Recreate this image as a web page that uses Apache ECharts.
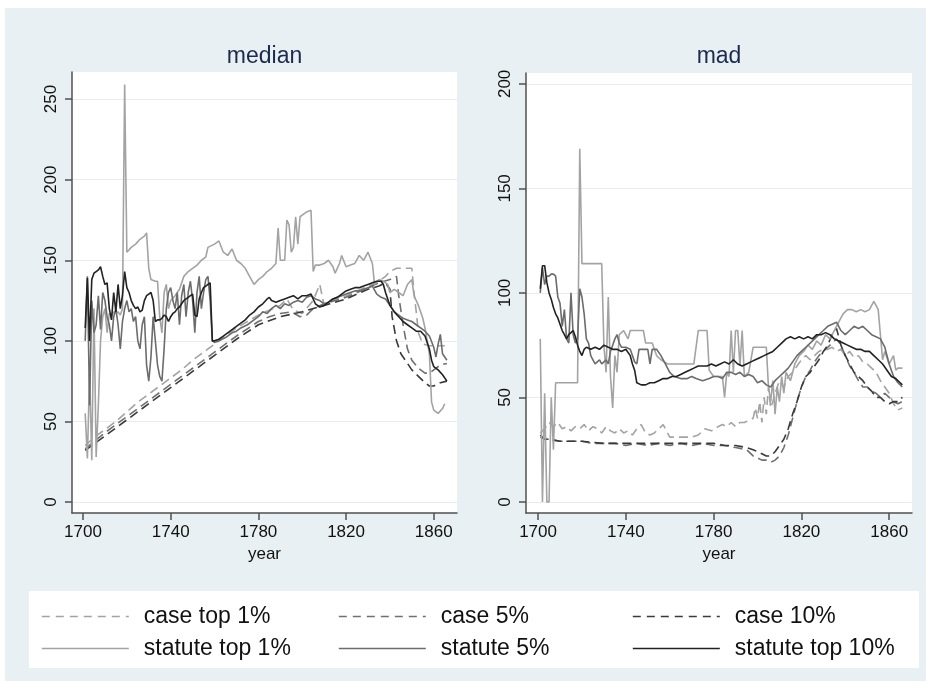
<!DOCTYPE html>
<html>
<head>
<meta charset="utf-8">
<script src="https://cdn.jsdelivr.net/npm/echarts@6/dist/echarts.min.js"></script>
<style>
  html, body { margin: 0; padding: 0; background: #ffffff; }
  #chart { width: 929px; height: 683px; }
</style>
</head>
<body>
<div id="chart"></div>
<script>
// Series names, in legend order
const seriesNames = ['case top 1%', 'case 5%', 'case 10%', 'statute top 1%', 'statute 5%', 'statute top 10%'];
const panelTitles = ['median', 'mad'];
const yearTicks = [1700, 1740, 1780, 1820, 1860];
const medianTicks = [0, 50, 100, 150, 200, 250];
const madTicks = [0, 50, 100, 150, 200];

// ---- median panel: [year, value] ----
const medianCaseTop1 = [[1701,35],[1705,40],[1710,45],[1715,50],[1720,56],[1725,62],[1730,67],[1735,72],[1740,77],[1745,82],[1750,88],[1755,93],[1760,98],[1765,103],[1770,108],[1775,112],[1780,116],[1785,119],[1790,122],[1793,126],[1796,119],[1800,117],[1805,125],[1808,135],[1810,122],[1815,126],[1820,128],[1825,131],[1830,134],[1835,137],[1838,140],[1840,143],[1843,145],[1847,145],[1850,145],[1851,130],[1852,118],[1853,105],[1855,98],[1858,97],[1861,97],[1865,97]];
const medianCase5 = [[1701,33],[1710,43],[1720,53],[1730,63],[1740,73],[1750,83],[1760,93],[1770,103],[1780,112],[1785,115],[1790,117],[1795,118],[1799,115],[1802,116],[1805,120],[1810,123],[1815,125],[1820,127],[1825,130],[1830,133],[1835,136],[1840,138],[1843,140],[1844,128],[1846,110],[1848,95],[1850,88],[1853,83],[1856,80],[1858,80],[1860,82],[1863,85],[1866,86]];
const medianCase10 = [[1701,32],[1710,41],[1720,51],[1730,61],[1740,71],[1750,81],[1760,91],[1770,101],[1780,110],[1790,115],[1800,118],[1810,122],[1820,126],[1825,129],[1830,132],[1835,134],[1838,136],[1840,132],[1841,115],[1843,100],[1845,92],[1848,86],[1850,82],[1853,78],[1856,74],[1858,72],[1860,72],[1863,74],[1866,75]];
const medianStatute1 = [[1701,55],[1702,27],[1703,80],[1704,26],[1705,120],[1706,28],[1707,60],[1708,100],[1709,115],[1710,120],[1711,105],[1712,117],[1713,116],[1714,118],[1715,117],[1716,118],[1717,116],[1718,120],[1719,259],[1720,155],[1722,158],[1724,160],[1726,163],[1728,165],[1729,167],[1730,145],[1731,138],[1733,137],[1734,137],[1735,115],[1736,105],[1737,130],[1738,135],[1739,120],[1740,125],[1742,128],[1744,132],[1746,140],[1748,143],[1750,145],[1752,147],[1754,150],[1756,152],[1757,158],[1760,160],[1762,162],[1764,155],[1766,153],[1768,157],[1770,150],[1772,148],[1774,145],[1776,140],[1778,135],[1780,138],[1782,140],[1784,143],[1786,145],[1788,148],[1789,170],[1790,150],[1792,150],[1793,175],[1794,172],[1795,155],[1796,158],[1797,177],[1798,160],[1799,177],[1800,178],[1802,180],[1804,181],[1805,143],[1806,147],[1808,147],[1810,148],[1812,150],[1814,146],[1815,142],[1817,148],[1818,153],[1820,146],[1822,147],[1824,148],[1826,153],[1828,150],[1830,155],[1832,148],[1833,135],[1835,138],[1837,137],[1839,135],[1840,130],[1842,132],[1844,130],[1846,128],[1848,135],[1850,138],[1851,128],[1853,122],[1855,114],[1856,108],[1857,100],[1858,92],[1859,62],[1860,57],[1862,55],[1864,58],[1865,61]];
const medianStatute5 = [[1701,100],[1702,140],[1703,60],[1704,125],[1705,105],[1706,110],[1707,128],[1708,107],[1709,130],[1710,125],[1711,115],[1712,110],[1713,100],[1714,115],[1715,120],[1716,110],[1717,95],[1718,112],[1719,120],[1720,125],[1721,118],[1722,120],[1723,112],[1724,115],[1725,100],[1726,95],[1727,110],[1728,115],[1729,85],[1730,75],[1731,90],[1732,115],[1733,100],[1734,85],[1735,78],[1736,75],[1737,95],[1738,120],[1739,130],[1740,133],[1741,125],[1742,120],[1743,130],[1744,110],[1745,128],[1746,135],[1747,115],[1748,130],[1749,137],[1750,125],[1751,105],[1752,130],[1753,140],[1754,120],[1755,130],[1756,138],[1757,140],[1758,125],[1759,100],[1760,99],[1762,100],[1765,102],[1768,105],[1770,106],[1772,108],[1775,110],[1778,113],[1780,115],[1782,118],[1784,117],[1786,120],[1788,122],[1790,120],[1792,123],[1794,122],[1796,124],[1798,125],[1800,124],[1802,127],[1804,128],[1806,126],[1808,125],[1810,123],[1812,124],[1814,126],[1816,127],[1818,128],[1820,129],[1822,130],[1824,131],[1826,131],[1828,132],[1830,133],[1832,134],[1834,129],[1836,127],[1838,126],[1840,122],[1842,118],[1844,116],[1846,114],[1848,113],[1850,112],[1852,110],[1854,108],[1856,106],[1858,103],[1860,96],[1861,90],[1862,98],[1863,104],[1864,92],[1865,90],[1866,88]];
const medianStatute10 = [[1701,108],[1702,139],[1703,100],[1704,138],[1705,142],[1706,143],[1707,144],[1708,146],[1709,140],[1710,135],[1711,136],[1712,120],[1713,113],[1714,130],[1715,118],[1716,135],[1717,120],[1718,128],[1719,143],[1720,133],[1721,130],[1722,125],[1723,122],[1724,120],[1725,121],[1726,118],[1727,119],[1728,125],[1729,128],[1730,129],[1731,130],[1732,125],[1733,112],[1734,113],[1735,113],[1736,114],[1737,116],[1738,115],[1739,112],[1740,115],[1741,117],[1742,118],[1743,120],[1744,121],[1745,123],[1746,125],[1747,126],[1748,127],[1749,128],[1750,129],[1751,116],[1752,115],[1753,126],[1754,130],[1755,133],[1756,134],[1757,135],[1758,136],[1759,100],[1760,100],[1762,101],[1764,103],[1766,105],[1768,107],[1770,109],[1772,111],[1774,113],[1776,116],[1778,118],[1780,121],[1782,123],[1784,126],[1785,127],[1786,125],[1788,124],[1790,125],[1792,126],[1794,127],[1796,128],[1798,126],[1800,128],[1802,128],[1804,129],[1806,123],[1808,121],[1810,122],[1812,124],[1814,126],[1816,127],[1818,129],[1820,131],[1822,132],[1824,133],[1826,133],[1828,134],[1830,135],[1832,136],[1834,137],[1836,137],[1837,135],[1838,130],[1840,122],[1842,118],[1844,115],[1846,112],[1848,110],[1850,108],[1852,106],[1854,106],[1856,103],[1858,95],[1859,88],[1860,84],[1862,82],[1864,79],[1866,75]];

// ---- mad panel: [year, value] ----
const madCaseTop1 = [[1701,33],[1703,35],[1705,38],[1707,36],[1709,38],[1711,35],[1713,36],[1715,34],[1717,36],[1719,35],[1721,37],[1723,34],[1725,36],[1727,35],[1729,33],[1731,36],[1733,34],[1735,33],[1737,35],[1739,33],[1741,34],[1743,32],[1745,35],[1747,37],[1749,33],[1751,32],[1753,33],[1755,35],[1757,37],[1760,31],[1765,31],[1770,31],[1773,32],[1776,35],[1779,34],[1782,36],[1784,37],[1786,36],[1788,38],[1790,36],[1792,38],[1794,38],[1796,39],[1798,40],[1799,45],[1800,40],[1801,48],[1802,38],[1803,50],[1804,42],[1805,55],[1806,45],[1807,48],[1808,52],[1809,55],[1810,58],[1812,55],[1814,60],[1816,62],[1818,65],[1820,68],[1822,70],[1824,68],[1826,70],[1828,72],[1830,73],[1832,73],[1834,74],[1836,72],[1838,73],[1840,70],[1842,72],[1844,69],[1846,70],[1848,67],[1850,66],[1852,64],[1854,62],[1856,58],[1858,55],[1860,52],[1862,47],[1864,44],[1866,45]];
const madCase5 = [[1701,31],[1703,30],[1705,30],[1710,29],[1715,29],[1720,29],[1725,28],[1730,28],[1735,28],[1740,27],[1745,28],[1750,27],[1755,28],[1760,27],[1765,28],[1770,27],[1775,28],[1780,27],[1785,27],[1790,26],[1795,25],[1798,22],[1800,21],[1802,20],[1804,20],[1806,19],[1808,20],[1810,22],[1812,26],[1814,32],[1816,40],[1818,48],[1820,55],[1822,60],[1824,63],[1826,67],[1828,70],[1830,72],[1832,74],[1834,76],[1836,78],[1838,75],[1840,70],[1842,65],[1844,62],[1846,58],[1848,55],[1850,55],[1852,53],[1854,52],[1856,50],[1858,52],[1860,50],[1862,48],[1864,47],[1866,48]];
const madCase10 = [[1701,32],[1703,30],[1705,30],[1710,29],[1715,29],[1720,29],[1730,28],[1740,28],[1750,28],[1760,28],[1770,28],[1780,28],[1785,27],[1790,27],[1795,26],[1798,25],[1800,24],[1802,23],[1804,22],[1806,22],[1808,24],[1810,27],[1812,30],[1814,35],[1816,42],[1818,48],[1820,55],[1822,60],[1824,62],[1826,65],[1828,68],[1830,72],[1832,75],[1834,80],[1836,83],[1838,75],[1840,70],[1842,66],[1844,62],[1846,60],[1848,58],[1850,55],[1852,53],[1854,50],[1856,50],[1858,48],[1860,47],[1862,48],[1864,48],[1866,50]];
const madStatute1 = [[1701,78],[1702,0],[1703,52],[1704,0],[1705,0],[1706,50],[1707,25],[1708,57],[1710,57],[1712,57],[1714,57],[1716,57],[1718,57],[1719,169],[1720,114],[1723,114],[1726,114],[1729,114],[1730,75],[1731,62],[1732,98],[1733,60],[1734,45],[1735,70],[1736,62],[1737,80],[1739,82],[1741,78],[1742,82],[1745,82],[1748,82],[1749,76],[1752,76],[1754,70],[1756,68],[1759,66],[1762,66],[1765,66],[1768,66],[1771,66],[1773,82],[1775,82],[1777,82],[1778,63],[1780,60],[1782,60],[1784,60],[1785,50],[1786,62],[1787,60],[1788,82],[1789,62],[1790,82],[1791,82],[1792,65],[1793,82],[1794,60],[1796,62],[1798,74],[1800,74],[1802,74],[1804,74],[1805,55],[1806,48],[1807,58],[1808,42],[1809,55],[1810,48],[1811,60],[1812,52],[1813,62],[1815,58],[1817,66],[1819,70],[1821,72],[1823,75],[1825,73],[1827,77],[1829,75],[1831,80],[1833,78],[1835,82],[1837,86],[1839,90],[1841,92],[1843,92],[1845,91],[1847,92],[1849,91],[1851,92],[1853,96],[1854,94],[1855,92],[1856,80],[1857,68],[1858,72],[1860,66],[1862,70],[1863,63],[1864,64],[1866,64]];
const madStatute5 = [[1701,100],[1702,112],[1703,104],[1704,108],[1705,108],[1706,109],[1707,109],[1708,108],[1709,98],[1710,95],[1711,84],[1712,92],[1713,78],[1714,76],[1715,100],[1716,80],[1717,76],[1718,78],[1719,102],[1720,98],[1721,90],[1722,78],[1723,76],[1724,70],[1725,68],[1726,66],[1727,67],[1728,68],[1729,66],[1730,67],[1731,68],[1732,66],[1733,72],[1734,75],[1735,78],[1736,80],[1737,76],[1738,74],[1740,74],[1742,73],[1744,67],[1745,66],[1746,73],[1748,73],[1750,73],[1751,66],[1752,73],[1754,73],[1756,70],[1758,66],[1760,62],[1762,60],[1765,59],[1768,59],[1770,60],[1772,59],[1775,58],[1778,59],[1780,60],[1782,60],[1784,59],[1786,62],[1788,62],[1790,61],[1792,62],[1794,60],[1796,61],[1798,60],[1800,57],[1802,58],[1804,56],[1806,55],[1808,58],[1810,60],[1812,62],[1814,64],[1816,67],[1818,70],[1820,72],[1822,74],[1824,76],[1826,78],[1828,80],[1830,82],[1832,84],[1834,85],[1836,86],[1838,82],[1840,80],[1842,82],[1844,84],[1846,83],[1848,84],[1850,82],[1852,80],[1854,79],[1856,78],[1858,74],[1860,66],[1862,60],[1864,57],[1866,55]];
const madStatute10 = [[1701,102],[1702,113],[1703,113],[1704,105],[1705,100],[1706,97],[1707,93],[1708,90],[1709,88],[1710,85],[1711,82],[1712,80],[1713,78],[1714,80],[1715,81],[1716,82],[1717,79],[1718,75],[1719,72],[1720,70],[1721,73],[1722,74],[1724,73],[1726,74],[1728,73],[1730,75],[1732,74],[1734,73],[1736,73],[1738,72],[1740,73],[1742,70],[1743,66],[1744,63],[1745,57],[1747,56],[1749,56],[1751,57],[1753,57],[1755,58],[1757,59],[1759,59],[1761,60],[1763,60],[1765,61],[1767,62],[1769,63],[1771,64],[1773,65],[1775,65],[1777,65],[1779,66],[1781,65],[1783,66],[1785,67],[1787,66],[1789,68],[1791,66],[1793,65],[1795,66],[1797,67],[1799,68],[1801,69],[1803,70],[1805,71],[1807,72],[1809,74],[1811,76],[1813,78],[1815,79],[1817,78],[1819,79],[1821,78],[1823,79],[1825,78],[1827,80],[1829,80],[1831,81],[1833,80],[1835,78],[1837,77],[1839,76],[1841,75],[1843,74],[1845,73],[1847,73],[1849,72],[1851,72],[1853,70],[1855,68],[1857,66],[1859,63],[1861,60],[1863,59],[1865,57],[1866,56]];

const panelData = [
  [medianCaseTop1, medianCase5, medianCase10, medianStatute1, medianStatute5, medianStatute10],
  [madCaseTop1, madCase5, madCase10, madStatute1, madStatute5, madStatute10]
];

// ---- appearance ----
const FONT = '"Liberation Sans", Arial, Helvetica, sans-serif';
const lineColors = ['#a3a3a3', '#707070', '#3a3a3a', '#a3a3a3', '#6c6c6c', '#222222'];
const dashed = [true, true, true, false, false, false];
const axisColor = '#505050';

const grids = [
  { left: 72, top: 72, width: 385, height: 441 },
  { left: 526, top: 73, width: 386, height: 440 }
];
const xRanges = [[1694.98, 1870.6], [1694.5, 1870.4]];
const yRanges = [[-6.8, 266.8], [-5.3, 205.2]];
const yTickSets = [medianTicks, madTicks];

const chart = echarts.init(document.getElementById('chart'), null, { renderer: 'canvas' });

const xAxes = grids.map((g, p) => ({
  type: 'value', gridIndex: p, min: xRanges[p][0], max: xRanges[p][1],
  name: 'year', nameLocation: 'middle', nameGap: 30,
  nameTextStyle: { fontSize: 17, color: '#111', fontFamily: FONT },
  axisLine: { show: true, onZero: false, lineStyle: { color: axisColor, width: 1.5 } },
  axisTick: { show: true, length: 7, customValues: yearTicks, lineStyle: { color: axisColor, width: 1.5 } },
  axisLabel: { customValues: yearTicks, formatter: v => String(v), fontSize: 17, color: '#111', margin: 11, fontFamily: FONT },
  splitLine: { show: false }
}));

const yAxes = grids.map((g, p) => ({
  type: 'value', gridIndex: p, min: yRanges[p][0], max: yRanges[p][1],
  axisLine: { show: true, onZero: false, lineStyle: { color: axisColor, width: 1.5 } },
  axisTick: { show: true, length: 7, customValues: yTickSets[p], lineStyle: { color: axisColor, width: 1.5 } },
  axisLabel: { customValues: yTickSets[p], formatter: v => String(v), rotate: 90, fontSize: 17, color: '#111', margin: 12, fontFamily: FONT },
  splitLine: { show: true, lineStyle: { color: '#e7ecef', width: 1.2 } }
}));

const series = [];
panelData.forEach((sets, p) => {
  sets.forEach((data, i) => {
    series.push({
      type: 'line', name: seriesNames[i], xAxisIndex: p, yAxisIndex: p,
      data: data, showSymbol: false, symbol: 'none', animation: false, silent: true,
      z: 2 + i,
      itemStyle: { color: lineColors[i] },
      lineStyle: { color: lineColors[i], width: 1.6, type: dashed[i] ? [9, 5] : 'solid' }
    });
  });
});

// legend: three columns, two rows; line keys only (marker hidden)
const legendX = [41, 338, 632];
const legendY = [605, 637];
const legends = seriesNames.map((name, i) => ({
  data: [name], left: legendX[i % 3], top: legendY[Math.floor(i / 3)],
  padding: 0, itemWidth: 87, itemHeight: 14, selectedMode: false,
  itemStyle: { color: 'rgba(0,0,0,0)', borderWidth: 0, opacity: 0 },
  lineStyle: { color: lineColors[i], width: 1.6, type: dashed[i] ? [8, 6] : 'solid' },
  textStyle: { fontSize: 23, color: '#111', fontFamily: FONT, padding: [0, 0, 0, 10] }
}));

const graphic = [
  { type: 'rect', z: -10, silent: true, shape: { x: 5, y: 8, width: 921, height: 673 }, style: { fill: '#e9f0f3' } },
  { type: 'rect', z: -9, silent: true, shape: { x: 29, y: 591, width: 890, height: 77 }, style: { fill: '#ffffff' } },
  { type: 'text', z: 5, x: 264.5, y: 57, style: { text: panelTitles[0], fontSize: 23, fontFamily: FONT, fill: '#1c2b4d', align: 'center', verticalAlign: 'middle' } },
  { type: 'text', z: 5, x: 719, y: 57, style: { text: panelTitles[1], fontSize: 23, fontFamily: FONT, fill: '#1c2b4d', align: 'center', verticalAlign: 'middle' } }
];

chart.setOption({
  backgroundColor: '#ffffff',
  animation: false,
  grid: grids.map(g => Object.assign({ show: true, backgroundColor: '#ffffff', borderWidth: 0, containLabel: false }, g)),
  xAxis: xAxes,
  yAxis: yAxes,
  legend: legends,
  graphic: graphic,
  series: series
});
</script>
</body>
</html>
